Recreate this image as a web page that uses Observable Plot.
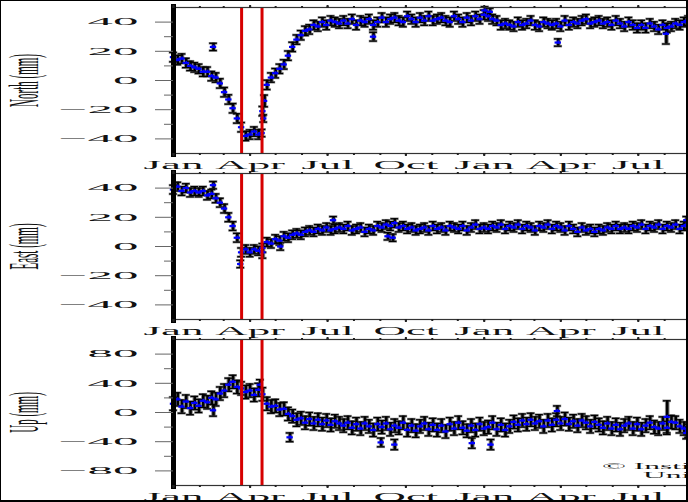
<!DOCTYPE html>
<html>
<head>
<meta charset="utf-8">
<script src="https://cdn.jsdelivr.net/npm/d3@7"></script>
<script src="https://cdn.jsdelivr.net/npm/@observablehq/plot@0.6"></script>
<style>
html, body { margin: 0; padding: 0; background: #fff; }
#wrap { position: relative; width: 688px; height: 502px; overflow: hidden; background: #fff; }
#wrap svg { position: absolute; left: 0; }
#border { position: absolute; left: 0; top: 0; width: 688px; height: 502px; box-sizing: border-box;
  border-left: 1px solid #000; border-top: 1px solid #000; border-right: 2px solid #000; border-bottom: 2px solid #000;
  pointer-events: none; z-index: 10; }
g[aria-label="x-axis tick label"] { font-size: 11.5px; }
g[aria-label="y-axis tick label"] { font-size: 10px; }
g[aria-label="y-axis label"] { font-size: 11px; }
.copy { position: absolute; font-family: "Liberation Serif", serif; font-size: 9px; line-height: 9px;
  transform: scaleX(3.5); transform-origin: 0 0; white-space: nowrap; color: #111; z-index: 5; }
</style>
</head>
<body>
<div id="wrap"></div>
<script>
// ---- time axis ----
const startDate = new Date(Date.UTC(2014, 0, 1));
const endDate = new Date(Date.UTC(2015, 7, 29));
const stepDays = 5; // one reading every 5 days, starting at startDate
const quakeDates = [new Date(Date.UTC(2014, 2, 22)), new Date(Date.UTC(2014, 3, 15))];

// ---- North (mm) ----
const north = [
  16, 14, 15, 12, 10, 9, 8, 6, 6, 3,
  2, -2, -8, -13, -19, -26, -32, -38, -37, -35,
  -37, -21, -3, 2, 5, 8, 11, 17, 23, 28,
  31, 34, 35, 38, 37, 40, 38, 41, 40, 39,
  41, 39, 42, 38, 41, 40, 42, 38, 40, 43,
  40, 42, 43, 41, 40, 44, 42, 40, 43, 41,
  44, 41, 42, 43, 41, 40, 44, 42, 40, 43,
  41, 44, 42, 45, 44, 42, 41, 38, 39, 38,
  37, 40, 38, 39, 41, 38, 37, 40, 39, 38,
  39, 37, 41, 38, 40, 39, 41, 42, 39, 40,
  41, 39, 40, 38, 41, 39, 37, 40, 38, 36,
  38, 36, 39, 37, 35, 38, 36, 37, 39, 38,
  40, 41
];
const northSigma = 3.2;
// [day offset, value, sigma]
const northExtra = [[47, 23, 2.5], [104, -36, 2.5], [106, -26, 2.5], [107, -14, 4], [235, 30, 3],
  [366, 48, 2.5], [372, 47, 2.5], [452, 26, 2.5], [579, 32, 7]];

// ---- East (mm) ----
const east = [
  39, 41, 38, 40, 37, 38, 37, 38, 35, 36,
  33, 30, 26, 20, 14, 6, -4, -2, -4, -2,
  -3, -1, 3, 2, 5, 4, 7, 6, 8, 9,
  8, 10, 11, 10, 12, 11, 13, 11, 12, 13,
  12, 14, 11, 12, 13, 10, 12, 11, 14, 13,
  15, 14, 16, 13, 14, 12, 13, 11, 12, 13,
  11, 14, 12, 13, 11, 14, 13, 12, 14, 11,
  13, 15, 12, 13, 12, 14, 13, 15, 12, 14,
  13, 15, 12, 14, 13, 11, 14, 13, 15, 12,
  14, 13, 11, 14, 12, 10, 13, 11, 12, 10,
  12, 11, 13, 12, 14, 12, 13, 12, 14, 13,
  15, 12, 14, 13, 15, 12, 14, 13, 15, 12,
  14, 15
];
const eastSigma = 3;
const eastExtra = [[47, 42, 2.5], [79, -12, 2.5], [105, -4, 4], [126, 0, 2.5], [188, 18, 2.5],
  [252, 7, 2.5], [258, 6, 2.5], [603, 18, 2.5]];

// ---- Up (mm) ----
const up = [
  12, 18, 8, 15, 6, 13, 9, 16, 14, 20,
  18, 26, 30, 38, 42, 35, 33, 28, 30, 24,
  31, 25, 12, 8, 9, 4, 5, -2, -5, -10,
  -8, -14, -9, -15, -10, -16, -11, -17, -12, -15,
  -18, -14, -21, -16, -22, -15, -19, -24, -16, -20,
  -15, -23, -18, -21, -14, -24, -18, -25, -19, -15,
  -23, -17, -24, -18, -26, -16, -22, -14, -21, -25,
  -18, -24, -16, -22, -20, -14, -23, -17, -24, -19,
  -13, -17, -11, -16, -10, -15, -12, -19, -11, -17,
  -10, -15, -9, -16, -12, -18, -11, -14, -19, -13,
  -17, -21, -15, -22, -17, -23, -18, -15, -22, -16,
  -23, -18, -14, -20, -22, -15, -21, -13, -14, -19,
  -22, -25
];
const upSigma = 9;
const upExtra = [[47, 3, 8], [102, 38, 7], [137, -34, 6], [244, -41, 6], [260, -44, 7],
  [351, -42, 7], [373, -44, 7], [451, 2, 7], [580, -6, 22], [603, -28, 8]];

// ---- axis ticks ----
const ticks50 = [-40, -20, 0, 20, 40];
const minor50 = [-30, -10, 10, 30];
const ticks100 = [-80, -40, 0, 40, 80];
const minor100 = [-60, -20, 20, 60];

const quarterTicks = d3.utcMonth.every(3).range(startDate, endDate);
const monthTicks = d3.utcMonth.range(startDate, endDate);

function stretch(svg, sel, sx) {
  svg.querySelectorAll(sel).forEach(t => {
    let tr = t.getAttribute("transform") || "";
    if (tr.includes("rotate(")) tr = tr.replace("rotate(", `scale(${sx},1) rotate(`);
    else tr = tr + ` scale(${sx},1)`;
    t.setAttribute("transform", tr);
  });
}

function panel({values, sigma, extra, domain, major, minor, label, top}) {
  const data = values.map((v, i) => ({date: d3.utcDay.offset(startDate, i * stepDays), v, e: sigma}))
    .concat(extra.map(([d, v, e]) => ({date: d3.utcDay.offset(startDate, d), v, e})));
  const tickStyle = {stroke: "#222", strokeWidth: 2, label: null};
  const svg = Plot.plot({
    width: 688, height: 173,
    marginLeft: 173, marginRight: 0, marginTop: 7, marginBottom: 20,
    style: {background: "none", fontFamily: "'Liberation Serif', serif", color: "#111"},
    x: {type: "utc", domain: [startDate, endDate]},
    y: {domain},
    marks: [
      Plot.ruleX(data, {x: "date", y1: d => d.v - d.e, y2: d => d.v + d.e, stroke: "#8c8c8c", strokeWidth: 4.6}),
      Plot.ruleY(data, {y: d => d.v + d.e, x1: "date", x2: "date", insetLeft: -4.3, insetRight: -4.3, stroke: "#8c8c8c", strokeWidth: 2.6}),
      Plot.ruleY(data, {y: d => d.v - d.e, x1: "date", x2: "date", insetLeft: -4.3, insetRight: -4.3, stroke: "#8c8c8c", strokeWidth: 2.6}),
      Plot.ruleX(data, {x: "date", y1: d => d.v - d.e, y2: d => d.v + d.e, stroke: "#000", strokeWidth: 2.6}),
      Plot.ruleY(data, {y: d => d.v + d.e, x1: "date", x2: "date", insetLeft: -3.8, insetRight: -3.8, stroke: "#000", strokeWidth: 1.3}),
      Plot.ruleY(data, {y: d => d.v - d.e, x1: "date", x2: "date", insetLeft: -3.8, insetRight: -3.8, stroke: "#000", strokeWidth: 1.3}),
      Plot.ruleY(data, {y: "v", x1: "date", x2: "date", insetLeft: -3.2, insetRight: -3.2, stroke: "#0000ff", strokeWidth: 2.2}),
      Plot.ruleX(data, {x: "date", y1: "v", y2: "v", insetTop: -1.6, insetBottom: -1.6, stroke: "#0000ff", strokeWidth: 1.6}),
      Plot.ruleX(quakeDates, {x: d => d, stroke: "#d60000", strokeWidth: 3}),
      Plot.frame({stroke: "#333", strokeWidth: 1.2}),
      Plot.ruleX([startDate], {x: d => d, stroke: "#000", strokeWidth: 5, insetTop: -3, insetBottom: -4}),
      Plot.axisY(major, {tickSize: 18, tickPadding: 17, stroke: "#666", label, labelAnchor: "center", labelOffset: 165, labelArrow: "none"}),
      Plot.axisY(minor, {tickSize: 9, stroke: "#666", fill: "none", label: null}),
      Plot.axisX(quarterTicks, {...tickStyle, tickSize: 3, tickPadding: 4, tickFormat: d3.utcFormat("%b")}),
      Plot.axisX(monthTicks, {...tickStyle, tickSize: 2, fill: "none"}),
      Plot.axisX(quarterTicks, {...tickStyle, anchor: "top", tickSize: 3, fill: "none"}),
      Plot.axisX(monthTicks, {...tickStyle, anchor: "top", tickSize: 2, fill: "none"})
    ]
  });
  svg.style.top = top + "px";
  stretch(svg, 'g[aria-label="x-axis tick label"] text', 3.9);
  stretch(svg, 'g[aria-label="y-axis tick label"] text', 5.1);
  stretch(svg, 'g[aria-label="y-axis label"] text', 3.8);
  return svg;
}

const wrap = document.getElementById("wrap");
wrap.appendChild(panel({values: north, sigma: northSigma, extra: northExtra, domain: [-50, 50], major: ticks50, minor: minor50, label: "North (mm)", top: 0.3}));
wrap.appendChild(panel({values: east, sigma: eastSigma, extra: eastExtra, domain: [-50, 50], major: ticks50, minor: minor50, label: "East (mm)", top: 165.8}));
wrap.appendChild(panel({values: up, sigma: upSigma, extra: upExtra, domain: [-100, 100], major: ticks100, minor: minor100, label: "Up (mm)", top: 331.5}));

const c1 = document.createElement("div");
c1.className = "copy"; c1.style.left = "602px"; c1.style.top = "461.5px";
c1.textContent = "© Institute of Geophysics";
const c2 = document.createElement("div");
c2.className = "copy"; c2.style.left = "643px"; c2.style.top = "470.6px";
c2.textContent = "University";
wrap.appendChild(c1); wrap.appendChild(c2);

const b = document.createElement("div");
b.id = "border";
wrap.appendChild(b);
</script>
</body>
</html>
